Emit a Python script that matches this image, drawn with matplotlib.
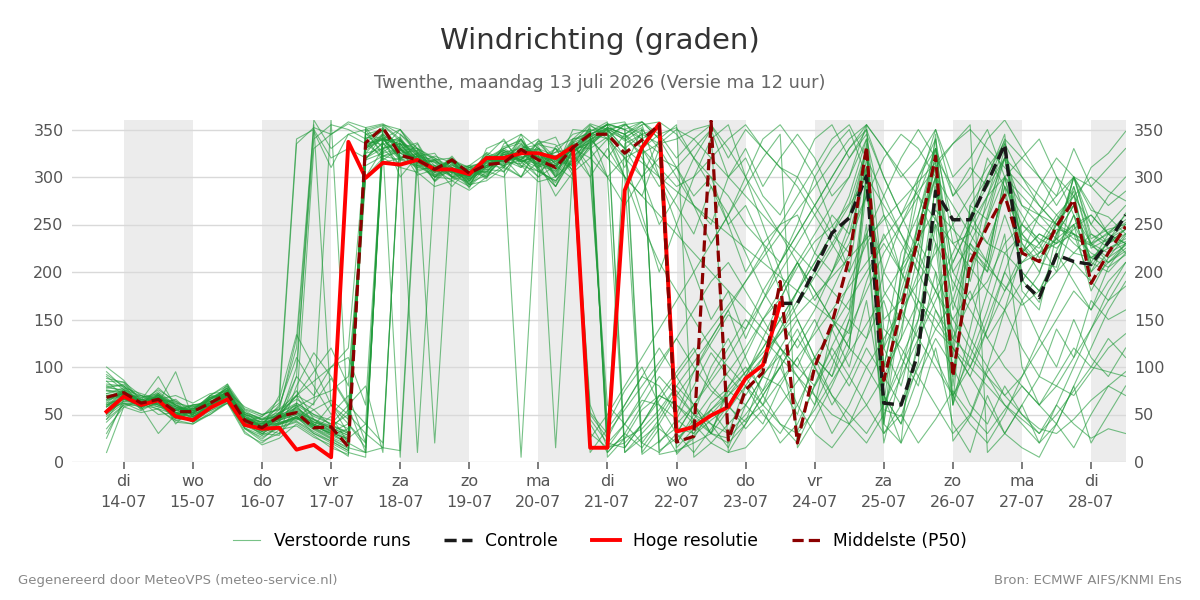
import matplotlib
matplotlib.use("Agg")
import matplotlib.pyplot as plt
from matplotlib.lines import Line2D
import pandas as pd

# 6-hourly steps, 13-07 18:00 .. 28-07 12:00
times = pd.date_range("2026-07-13 18:00", periods=60, freq="6h")

# Hoge resolutie (runs until 23-07 12:00)
hres = [53, 69, 60, 65, 48, 44, 57, 66, 39, 35,
        36, 13, 18, 5, 337, 299, 315, 313, 318, 308,
        308, 303, 320, 320, 325, 325, 320, 332, 15, 15,
        286, 331, 356, 32, 37, 49, 58, 88, 102, 167]

# Controle, from 23-07 12:00 (before that it lies under the hres line)
ctrl_start = 39
ctrl = [167, 167, 202, 241, 257, 301, 62, 60, 115, 285,
        255, 255, 294, 334, 190, 173, 218, 211, 208, 231, 260]

# Middelste (P50)
p50 = [68, 73, 62, 66, 53, 53, 62, 72, 44, 36,
       48, 52, 36, 37, 16, 336, 352, 323, 318, 308,
       318, 304, 313, 315, 329, 318, 310, 331, 345, 345,
       325, 339, 355, 21, 27, 359, 23, 76, 94, 190,
       20, 100, 146, 215, 332, 86, 160, 237, 322, 90,
       210, 248, 281, 220, 211, 248, 276, 188, 220, 248]

# Verstoorde runs (ensemble members)
runs = [
    [62, 76, 55, 72, 40, 58, 66, 78, 35, 22, 30, 48, 30, 22, 12, 318, 345, 300, 322, 296,
     318, 288, 330, 338, 316, 300, 332, 340, 342, 352, 338, 350, 12, 25, 40, 55, 70, 88, 110, 135,
     165, 195, 225, 260, 310, 80, 140, 220, 315, 95, 200, 255, 300, 235, 225, 255, 285, 200, 235, 250],
    [88, 84, 70, 60, 66, 50, 70, 80, 55, 48, 62, 335, 352, 345, 356, 346, 326, 340, 306, 312,
     290, 310, 298, 335, 345, 305, 318, 312, 338, 356, 350, 8, 22, 36, 30, 62, 78, 112, 150, 172,
     205, 232, 248, 272, 330, 55, 48, 105, 300, 110, 250, 302, 338, 192, 168, 222, 260, 206, 232, 262],
    [45, 60, 64, 55, 44, 40, 52, 62, 42, 28, 52, 45, 62, 88, 58, 10, 342, 318, 335, 300,
     320, 292, 296, 310, 300, 335, 342, 305, 52, 30, 335, 345, 352, 8, 28, 44, 58, 42, 92, 112,
     32, 82, 122, 158, 240, 20, 95, 170, 290, 22, 48, 95, 118, 170, 198, 255, 270, 310, 325, 348],
    [58, 66, 60, 78, 62, 48, 58, 70, 50, 45, 50, 70, 95, 120, 80, 300, 330, 5, 318, 312,
     305, 312, 325, 310, 345, 330, 308, 350, 348, 300, 320, 330, 345, 352, 320, 300, 280, 250, 230, 210,
     240, 270, 300, 330, 350, 180, 150, 200, 330, 200, 230, 270, 320, 230, 210, 250, 290, 230, 250, 270],
    [75, 70, 66, 58, 56, 45, 64, 66, 46, 40, 45, 100, 340, 355, 350, 340, 318, 330, 302, 308,
     296, 305, 322, 340, 312, 295, 300, 318, 10, 35, 60, 90, 80, 50, 95, 130, 160, 110, 70, 40,
     20, 60, 100, 150, 250, 30, 60, 120, 200, 60, 120, 180, 240, 100, 60, 40, 80, 20, 50, 80],
    [10, 58, 64, 50, 52, 42, 50, 64, 32, 18, 25, 40, 28, 15, 8, 350, 355, 340, 312, 318,
     300, 290, 306, 300, 330, 340, 312, 298, 45, 20, 15, 40, 70, 95, 120, 80, 60, 90, 130, 170,
     210, 180, 150, 120, 290, 100, 180, 240, 300, 160, 220, 200, 260, 210, 220, 230, 240, 190, 210, 230],
    [95, 78, 72, 66, 70, 62, 72, 74, 58, 50, 55, 130, 355, 60, 40, 20, 330, 312, 325, 295,
     310, 292, 320, 330, 340, 308, 290, 322, 335, 348, 340, 355, 358, 345, 320, 290, 260, 300, 340, 355,
     330, 300, 250, 200, 320, 140, 120, 90, 60, 30, 50, 100, 160, 220, 240, 230, 250, 260, 240, 230],
    [66, 72, 58, 70, 48, 60, 60, 82, 40, 34, 44, 50, 42, 38, 30, 345, 340, 335, 310, 318,
     304, 310, 304, 328, 318, 332, 300, 338, 300, 60, 40, 20, 10, 30, 60, 90, 120, 150, 130, 110,
     90, 70, 50, 40, 60, 90, 130, 170, 150, 120, 100, 140, 180, 220, 260, 300, 280, 250, 230, 245],
    [80, 80, 62, 74, 60, 50, 68, 72, 52, 45, 48, 60, 330, 345, 358, 352, 330, 335, 314, 300,
     314, 296, 320, 312, 340, 318, 326, 345, 350, 5, 25, 55, 70, 60, 40, 20, 10, 15, 35, 60,
     85, 110, 140, 170, 200, 230, 200, 170, 140, 120, 90, 60, 30, 15, 5, 40, 80, 120, 160, 190],
    [50, 64, 66, 60, 46, 54, 56, 66, 38, 30, 40, 48, 35, 25, 15, 10, 15, 340, 322, 325,
     300, 312, 300, 326, 310, 338, 320, 308, 30, 15, 40, 70, 100, 130, 160, 190, 210, 180, 150, 120,
     100, 80, 110, 140, 180, 220, 250, 280, 230, 190, 160, 130, 100, 80, 60, 80, 110, 140, 170, 200],
    [70, 68, 56, 62, 95, 46, 58, 70, 46, 38, 46, 52, 38, 30, 25, 40, 20, 335, 330, 305,
     322, 300, 326, 318, 335, 312, 322, 320, 340, 320, 300, 280, 260, 240, 220, 200, 180, 160, 140, 120,
     100, 140, 180, 220, 335, 60, 200, 300, 340, 80, 230, 210, 300, 220, 240, 230, 300, 235, 245, 250],
    [60, 74, 60, 68, 50, 56, 64, 68, 48, 42, 43, 58, 68, 75, 90, 300, 315, 320, 310, 20,
     306, 292, 316, 314, 330, 326, 302, 336, 344, 355, 10, 30, 50, 80, 60, 40, 30, 50, 75, 100,
     130, 160, 200, 240, 280, 320, 345, 330, 300, 270, 240, 210, 180, 210, 230, 245, 240, 228, 215, 238],
    [30, 62, 54, 64, 44, 48, 54, 64, 35, 26, 36, 42, 30, 20, 10, 5, 352, 330, 336, 306,
     316, 298, 308, 306, 326, 318, 330, 302, 25, 50, 80, 110, 140, 170, 200, 230, 260, 290, 320, 345,
     15, 45, 80, 120, 310, 40, 200, 280, 330, 250, 190, 260, 330, 230, 200, 240, 270, 210, 200, 220],
    [78, 82, 66, 68, 60, 52, 66, 76, 44, 36, 70, 340, 350, 320, 330, 320, 336, 312, 318, 296,
     312, 308, 310, 330, 320, 326, 300, 316, 338, 352, 345, 330, 310, 290, 300, 320, 340, 355, 330, 310,
     290, 260, 230, 200, 240, 280, 320, 350, 320, 290, 260, 230, 220, 240, 260, 250, 235, 228, 242, 255],
    [65, 70, 64, 62, 56, 46, 62, 74, 42, 32, 42, 46, 40, 28, 35, 338, 334, 342, 316, 318,
     306, 300, 324, 316, 314, 330, 310, 340, 346, 340, 320, 300, 340, 355, 5, 20, 40, 60, 90, 120,
     150, 110, 70, 40, 20, 50, 90, 130, 170, 210, 250, 280, 300, 320, 340, 300, 260, 230, 210, 225],
    [55, 72, 58, 30, 50, 44, 56, 72, 38, 40, 40, 44, 55, 65, 50, 30, 15, 12, 330, 318,
     320, 302, 322, 312, 318, 336, 316, 330, 352, 30, 55, 80, 105, 130, 100, 75, 60, 90, 120, 150,
     180, 210, 240, 220, 330, 100, 130, 260, 320, 60, 270, 300, 345, 180, 160, 240, 300, 240, 225, 232],
    [90, 76, 70, 66, 62, 58, 60, 80, 52, 46, 52, 60, 48, 40, 30, 320, 336, 318, 322, 300,
     298, 306, 300, 322, 312, 306, 296, 326, 50, 25, 60, 90, 120, 90, 60, 30, 20, 40, 70, 100,
     60, 30, 15, 40, 80, 120, 160, 130, 100, 70, 40, 20, 50, 90, 130, 170, 210, 190, 170, 185],
    [72, 78, 60, 70, 52, 56, 68, 70, 40, 34, 46, 54, 40, 32, 22, 330, 346, 325, 328, 302,
     318, 296, 318, 315, 5, 316, 322, 326, 345, 355, 340, 325, 335, 350, 340, 320, 300, 280, 260, 240,
     220, 200, 180, 160, 300, 120, 220, 260, 330, 180, 250, 320, 290, 260, 230, 200, 250, 180, 215, 228],
    [62, 66, 66, 64, 58, 50, 58, 76, 48, 38, 41, 48, 36, 26, 18, 336, 350, 328, 318, 316,
     308, 312, 314, 332, 338, 320, 326, 330, 350, 345, 300, 250, 210, 180, 150, 120, 100, 80, 60, 40,
     30, 55, 85, 115, 145, 175, 205, 235, 265, 245, 225, 205, 185, 165, 180, 200, 220, 240, 230, 245],
    [85, 84, 62, 72, 54, 60, 62, 78, 54, 44, 58, 120, 348, 310, 345, 350, 322, 330, 310, 308,
     306, 290, 312, 310, 330, 308, 294, 328, 336, 350, 355, 358, 340, 20, 45, 70, 95, 120, 150, 180,
     210, 240, 270, 300, 340, 70, 20, 200, 345, 130, 170, 210, 300, 280, 260, 240, 270, 230, 240, 252],
    [48, 62, 62, 58, 52, 42, 60, 64, 36, 24, 39, 46, 34, 24, 14, 342, 338, 340, 318, 316,
     300, 306, 306, 324, 316, 324, 15, 312, 332, 352, 345, 320, 290, 310, 330, 350, 10, 40, 70, 100,
     130, 100, 70, 50, 30, 60, 100, 140, 180, 220, 260, 290, 320, 300, 280, 260, 240, 220, 210, 222],
    [68, 76, 58, 70, 50, 56, 58, 76, 42, 40, 46, 55, 42, 34, 26, 318, 325, 330, 312, 310,
     318, 298, 322, 316, 326, 318, 306, 332, 40, 10, 30, 60, 90, 70, 50, 30, 55, 80, 110, 140,
     170, 200, 230, 260, 330, 40, 160, 250, 310, 90, 200, 280, 335, 240, 215, 235, 300, 265, 258, 240],
    [58, 72, 57, 66, 48, 54, 62, 68, 44, 32, 41, 47, 39, 31, 24, 334, 340, 322, 10, 300,
     314, 292, 316, 312, 328, 314, 320, 324, 344, 356, 350, 340, 352, 30, 60, 85, 110, 140, 170, 200,
     230, 260, 290, 320, 345, 300, 260, 220, 180, 140, 100, 80, 60, 40, 20, 60, 100, 140, 180, 210],
    [100, 86, 64, 76, 64, 55, 70, 82, 56, 50, 56, 70, 85, 100, 110, 60, 340, 320, 324, 302,
     310, 294, 302, 322, 316, 322, 300, 328, 336, 350, 342, 352, 8, 12, 20, 30, 25, 45, 60, 85,
     110, 135, 160, 185, 210, 235, 260, 285, 310, 335, 355, 10, 30, 60, 90, 80, 70, 95, 120, 135],
    [35, 58, 52, 56, 42, 40, 50, 62, 30, 20, 34, 38, 26, 18, 6, 352, 356, 345, 326, 320,
     306, 308, 304, 326, 318, 338, 334, 310, 330, 342, 355, 345, 335, 340, 350, 355, 330, 300, 270, 240,
     210, 180, 150, 120, 100, 130, 160, 190, 220, 250, 280, 310, 335, 300, 270, 250, 240, 230, 220, 230],
    [76, 72, 68, 72, 58, 50, 68, 72, 50, 36, 47, 56, 44, 36, 28, 328, 340, 335, 315, 310,
     302, 306, 308, 326, 320, 316, 304, 334, 342, 15, 25, 35, 55, 80, 105, 130, 160, 190, 220, 250,
     280, 310, 340, 355, 320, 280, 240, 200, 160, 130, 110, 90, 70, 50, 35, 30, 45, 65, 80, 95],
    [64, 74, 64, 60, 54, 58, 58, 70, 46, 42, 45, 52, 40, 33, 24, 332, 344, 320, 325, 306,
     318, 302, 312, 330, 336, 318, 322, 328, 346, 350, 330, 315, 300, 285, 270, 255, 240, 225, 210, 195,
     180, 165, 150, 135, 300, 100, 190, 250, 300, 120, 270, 255, 320, 225, 210, 205, 290, 225, 235, 245],
    [52, 64, 62, 66, 46, 52, 62, 66, 44, 30, 40, 46, 38, 30, 20, 340, 352, 328, 330, 304,
     316, 296, 318, 316, 334, 320, 312, 338, 348, 358, 15, 40, 65, 90, 115, 140, 165, 190, 215, 240,
     265, 290, 315, 340, 355, 330, 305, 280, 255, 230, 205, 180, 160, 190, 220, 250, 280, 300, 285, 275],
    [82, 80, 60, 70, 60, 52, 66, 72, 50, 44, 49, 57, 45, 38, 32, 312, 322, 326, 308, 310,
     300, 304, 306, 324, 318, 306, 296, 316, 334, 348, 356, 340, 325, 15, 35, 55, 75, 95, 115, 135,
     155, 175, 195, 215, 235, 255, 275, 295, 315, 335, 350, 330, 310, 290, 270, 250, 230, 215, 205, 218],
    [42, 60, 60, 56, 50, 42, 54, 62, 36, 28, 37, 43, 32, 22, 12, 348, 354, 338, 322, 318,
     304, 310, 312, 318, 330, 334, 330, 306, 334, 20, 40, 65, 60, 45, 30, 50, 70, 95, 120, 150,
     180, 210, 240, 270, 300, 270, 240, 210, 180, 150, 120, 90, 60, 45, 30, 50, 75, 100, 95, 90],
    [70, 72, 65, 90, 58, 54, 70, 68, 42, 48, 66, 134, 100, 60, 30, 300, 320, 310, 305, 290,
     296, 286, 300, 312, 300, 316, 280, 305, 320, 340, 300, 280, 330, 300, 270, 250, 300, 320, 280, 260,
     300, 270, 240, 280, 340, 260, 200, 230, 300, 210, 250, 230, 280, 240, 220, 235, 250, 215, 230, 240],
    [60, 68, 70, 64, 52, 48, 56, 74, 46, 40, 60, 110, 80, 50, 70, 20, 355, 350, 330, 320,
     310, 300, 310, 320, 318, 310, 290, 320, 60, 15, 20, 40, 70, 60, 45, 30, 75, 60, 90, 80,
     50, 110, 90, 150, 130, 200, 170, 230, 200, 150, 180, 130, 160, 120, 90, 140, 110, 170, 150, 160],
    [55, 62, 58, 68, 56, 60, 64, 70, 40, 35, 30, 80, 115, 90, 60, 40, 330, 350, 325, 308,
     318, 306, 302, 320, 340, 310, 330, 318, 354, 345, 310, 350, 330, 40, 60, 30, 80, 100, 75, 120,
     90, 60, 140, 100, 170, 60, 110, 80, 160, 120, 90, 140, 200, 170, 130, 100, 150, 110, 90, 120],
    [75, 74, 60, 62, 48, 52, 66, 74, 48, 36, 52, 75, 45, 35, 55, 330, 350, 330, 315, 322,
     315, 302, 320, 328, 322, 300, 312, 330, 320, 300, 270, 300, 250, 280, 320, 350, 300, 330, 290, 320,
     345, 320, 280, 300, 355, 330, 300, 320, 350, 280, 310, 290, 340, 320, 300, 280, 300, 290, 270, 285],
    [85, 70, 62, 66, 64, 48, 60, 72, 40, 30, 28, 60, 35, 48, 20, 340, 348, 332, 320, 305,
     310, 300, 322, 305, 330, 325, 318, 336, 355, 340, 355, 20, 45, 75, 50, 100, 130, 90, 60, 110,
     140, 100, 60, 90, 130, 170, 110, 150, 230, 70, 110, 160, 220, 200, 180, 220, 190, 160, 205, 230],
    [45, 70, 58, 72, 60, 50, 58, 64, 44, 34, 42, 90, 70, 100, 120, 330, 340, 320, 322, 310,
     305, 298, 312, 320, 300, 330, 322, 312, 340, 350, 330, 300, 320, 310, 280, 300, 250, 270, 230, 250,
     260, 220, 200, 250, 330, 150, 170, 240, 340, 230, 240, 280, 320, 270, 250, 235, 220, 215, 225, 235],
    [68, 74, 60, 64, 50, 54, 62, 70, 42, 38, 52, 62, 50, 40, 60, 80, 10, 345, 330, 312,
     308, 304, 316, 322, 326, 312, 306, 324, 300, 330, 300, 10, 35, 20, 50, 40, 15, 60, 40, 80,
     110, 70, 30, 60, 100, 70, 40, 90, 130, 100, 60, 40, 80, 50, 30, 60, 40, 25, 35, 30],
    [92, 80, 68, 70, 56, 56, 66, 78, 50, 42, 50, 70, 38, 60, 45, 335, 340, 338, 318, 305,
     320, 302, 318, 320, 332, 328, 314, 326, 340, 320, 345, 355, 300, 250, 200, 150, 180, 130, 170, 210,
     250, 300, 330, 350, 300, 120, 80, 150, 260, 170, 230, 200, 290, 250, 230, 260, 280, 210, 240, 260],
    [25, 66, 62, 62, 46, 50, 60, 70, 46, 36, 48, 52, 45, 32, 40, 325, 330, 335, 325, 315,
     300, 295, 320, 318, 310, 326, 310, 332, 330, 300, 10, 25, 40, 70, 95, 125, 155, 140, 180, 210,
     240, 270, 300, 330, 355, 40, 20, 60, 120, 40, 10, 70, 30, 60, 20, 40, 15, 50, 80, 70],
    [78, 76, 64, 68, 58, 52, 68, 76, 52, 40, 55, 66, 55, 38, 50, 330, 342, 330, 315, 308,
     318, 310, 316, 328, 316, 322, 290, 330, 344, 355, 350, 358, 345, 320, 340, 355, 320, 350, 330, 310,
     300, 340, 355, 320, 350, 300, 260, 300, 330, 280, 300, 340, 360, 330, 300, 270, 300, 250, 280, 300],
    [72, 70, 58, 64, 54, 60, 60, 70, 42, 36, 50, 90, 360, 330, 345, 335, 322, 318, 312, 300,
     310, 300, 318, 326, 330, 322, 316, 340, 356, 350, 320, 260, 200, 250, 300, 340, 355, 300, 250, 200,
     150, 110, 90, 130, 190, 240, 200, 160, 110, 70, 100, 150, 200, 250, 290, 320, 300, 270, 240, 220],
    [60, 66, 62, 70, 50, 48, 56, 70, 44, 38, 48, 70, 60, 360, 40, 15, 340, 322, 318, 310,
     316, 304, 312, 324, 318, 314, 308, 326, 340, 345, 330, 345, 20, 45, 80, 115, 90, 70, 100, 140,
     180, 220, 260, 240, 310, 70, 40, 130, 250, 60, 140, 220, 290, 200, 180, 215, 260, 200, 220, 240],
    [58, 74, 66, 60, 56, 52, 64, 74, 46, 42, 45, 62, 50, 44, 35, 320, 330, 338, 326, 306,
     312, 306, 310, 318, 320, 330, 314, 335, 310, 40, 75, 100, 60, 30, 10, 35, 60, 35, 55, 20,
     40, 80, 120, 90, 60, 30, 50, 20, 45, 75, 50, 30, 55, 80, 60, 90, 120, 100, 130, 110],
    [80, 74, 62, 68, 52, 56, 62, 72, 46, 38, 46, 58, 42, 36, 28, 325, 345, 330, 318, 310,
     308, 302, 314, 320, 328, 318, 312, 330, 348, 355, 358, 330, 300, 270, 240, 290, 250, 200, 230, 180,
     210, 170, 200, 230, 280, 200, 250, 290, 350, 300, 320, 350, 300, 270, 260, 280, 330, 290, 310, 330],
    [66, 72, 60, 66, 50, 52, 60, 72, 42, 36, 44, 50, 38, 30, 20, 10, 340, 350, 322, 300,
     306, 296, 310, 320, 326, 310, 320, 316, 345, 10, 30, 15, 40, 10, 25, 55, 30, 80, 50, 30,
     60, 100, 140, 190, 230, 260, 230, 200, 250, 200, 170, 190, 230, 250, 235, 225, 245, 260, 240, 230],
    [50, 66, 60, 64, 52, 54, 62, 70, 40, 32, 40, 48, 36, 28, 20, 345, 350, 325, 318, 308,
     316, 310, 318, 318, 322, 318, 310, 330, 342, 352, 345, 358, 340, 310, 270, 230, 260, 220, 180, 150,
     120, 150, 110, 80, 120, 90, 60, 100, 140, 170, 130, 100, 70, 90, 120, 150, 180, 160, 190, 210],
]

day_abbr = ["ma", "di", "wo", "do", "vr", "za", "zo"]
days = pd.date_range("2026-07-14", "2026-07-28", freq="D")

fig = plt.figure(figsize=(12, 6), dpi=100)
ax = fig.add_axes([0.06, 0.23, 0.878, 0.57])

x0 = pd.Timestamp("2026-07-13 06:00")
x1 = times[-1]

# alternating day shading
for d in days[::2]:
    ax.axvspan(d, min(d + pd.Timedelta(days=1), x1), color="#ececec", lw=0, zorder=0)

for r in runs:
    ax.plot(times, r, color="#1e9a38", lw=0.8, alpha=0.6, zorder=2)

dash = (0, (3.5, 1.6))
ax.plot(times[ctrl_start:], ctrl, color="#1a1a1a", lw=2.5, ls=dash, zorder=3)
ax.plot(times[:len(hres)], hres, color="#ff0000", lw=2.8, zorder=4)
ax.plot(times, p50, color="#8b0000", lw=2.3, ls=dash, zorder=5)

ax.set_xlim(x0, x1)
ax.set_ylim(0, 360)
ax.set_yticks(range(0, 351, 50))
ax.grid(axis="y", color="#d9d9d9", lw=1)
ax.set_axisbelow(True)
for s in ax.spines.values():
    s.set_visible(False)

ax.set_xticks(days)
ax.set_xticklabels([f"{day_abbr[d.weekday()]}\n{d:%d-%m}" for d in days], linespacing=1.45)
ax.tick_params(axis="x", length=5, width=1.2, color="#666666", labelcolor="#555555",
               labelsize=11.5, pad=4)
ax.tick_params(axis="y", length=0, labelcolor="#555555", labelsize=11.5,
               labelright=True, pad=6)

fig.text(0.5, 0.932, "Windrichting (graden)", ha="center", va="center",
         fontsize=21, color="#333333")
fig.text(0.5, 0.861, "Twenthe, maandag 13 juli 2026 (Versie ma 12 uur)", ha="center",
         va="center", fontsize=12.8, color="#666666")

handles = [
    Line2D([], [], color="#1e9a38", lw=0.8, alpha=0.6),
    Line2D([], [], color="#1a1a1a", lw=2.5, ls=dash),
    Line2D([], [], color="#ff0000", lw=2.8),
    Line2D([], [], color="#8b0000", lw=2.3, ls=dash),
]
labels = ["Verstoorde runs", "Controle", "Hoge resolutie", "Middelste (P50)"]
fig.legend(handles, labels, loc="center", bbox_to_anchor=(0.5, 0.098), ncol=4,
           frameon=False, fontsize=12.3, handlelength=1.6, handletextpad=0.8,
           columnspacing=2.0)

fig.text(0.015, 0.033, "Gegenereerd door MeteoVPS (meteo-service.nl)", ha="left",
         va="center", fontsize=9.5, color="#888888")
fig.text(0.985, 0.033, "Bron: ECMWF AIFS/KNMI Ens", ha="right", va="center",
         fontsize=9.5, color="#888888")

fig.savefig("out.png", dpi=100)
